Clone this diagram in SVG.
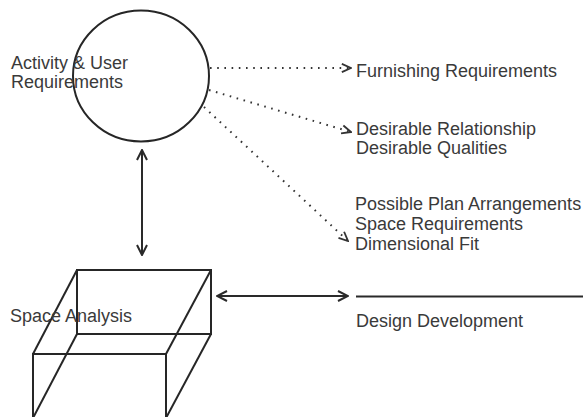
<svg xmlns="http://www.w3.org/2000/svg" width="583" height="417" viewBox="0 0 583 417">
<style>
.lbl{font-family:"Liberation Sans",Arial,sans-serif;font-size:18px;fill:#3a3a3a}
.shape{fill:none;stroke:#262626;stroke-width:2}
.solid{fill:none;stroke:#2a2a2a;stroke-width:2}
.dot{fill:none;stroke:#333;stroke-width:2;stroke-dasharray:1.6 5.6}
</style>
<defs>
<marker id="ah" viewBox="0 0 12 12" refX="11" refY="6" markerWidth="12" markerHeight="12" markerUnits="userSpaceOnUse" orient="auto-start-reverse">
<path d="M1,1 L11,6 L1,11" fill="none" stroke="#2a2a2a" stroke-width="2"/>
</marker>
<marker id="ahd" viewBox="0 0 12 12" refX="11" refY="6" markerWidth="11" markerHeight="11" markerUnits="userSpaceOnUse" orient="auto">
<path d="M1,1.5 L11,6 L1,10.5" fill="none" stroke="#333" stroke-width="2"/>
</marker>
</defs>
<rect width="583" height="417" fill="#fff"/>
<g id="activity">
<ellipse class="shape" cx="141" cy="76" rx="68" ry="65.5"/>
<text class="lbl" x="11" y="69">Activity &amp; User</text>
<text class="lbl" x="11" y="88">Requirements</text>
</g>
<g id="space-analysis">
<rect class="shape" x="77" y="270" width="134" height="64"/>
<rect class="shape" x="33" y="354" width="133" height="64"/>
<line class="shape" x1="77" y1="270" x2="33" y2="354"/>
<line class="shape" x1="211" y1="270" x2="166" y2="354"/>
<line class="shape" x1="77" y1="334" x2="33" y2="418"/>
<line class="shape" x1="211" y1="334" x2="166" y2="418"/>
<text class="lbl" x="10" y="322">Space Analysis</text>
</g>
<g id="furnishing">
<text class="lbl" x="356" y="77">Furnishing Requirements</text>
</g>
<g id="desirable">
<text class="lbl" x="356" y="135">Desirable Relationship</text>
<text class="lbl" x="356" y="154">Desirable Qualities</text>
</g>
<g id="possible">
<text class="lbl" x="355" y="210">Possible Plan Arrangements</text>
<text class="lbl" x="355" y="230">Space Requirements</text>
<text class="lbl" x="355" y="250">Dimensional Fit</text>
</g>
<g id="design-development">
<line class="solid" x1="356" y1="296.5" x2="583" y2="296.5"/>
<text class="lbl" x="356" y="327">Design Development</text>
</g>
<g id="connectors">
<line class="dot" x1="210" y1="68" x2="351" y2="68" marker-end="url(#ahd)"/>
<line class="dot" x1="209" y1="90" x2="351" y2="132" marker-end="url(#ahd)"/>
<line class="dot" x1="204" y1="107" x2="348" y2="241" marker-end="url(#ahd)"/>
<line class="solid" x1="142" y1="150" x2="142" y2="255" marker-start="url(#ah)" marker-end="url(#ah)"/>
<line class="solid" x1="217" y1="296" x2="348" y2="296" marker-start="url(#ah)" marker-end="url(#ah)"/>
</g>
</svg>
